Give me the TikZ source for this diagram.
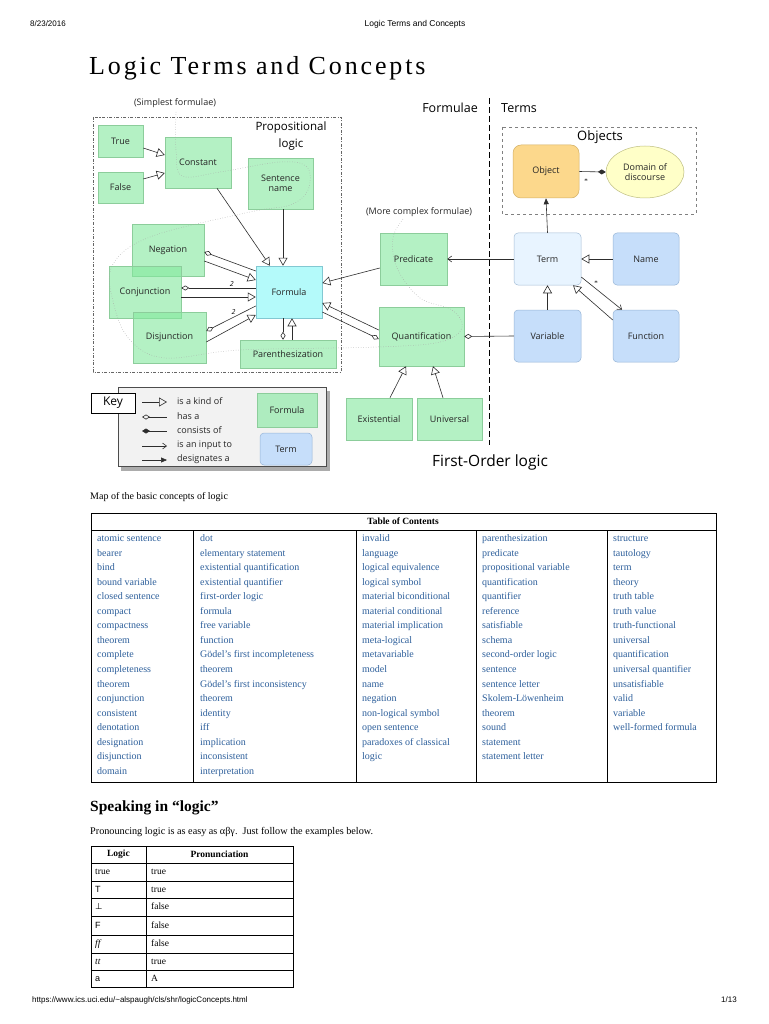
\documentclass[tikz,border=0pt]{standalone}
\usepackage{fontspec}
\setmainfont{Liberation Serif}
\setsansfont{Liberation Sans}
\newfontfamily\hand{Open Sans}
\newfontfamily\dejavu{DejaVu Sans}
\newfontfamily\titlefont[LetterSpace=11]{Liberation Serif}
\usetikzlibrary{arrows.meta,shapes.geometric}
\definecolor{gfill}{RGB}{130,233,157}
\definecolor{gdraw}{RGB}{140,205,155}
\definecolor{cfill}{RGB}{180,250,250}
\definecolor{cdraw}{RGB}{130,200,210}
\definecolor{tfill}{RGB}{232,244,255}
\definecolor{tdraw}{RGB}{165,190,215}
\definecolor{bfill}{RGB}{198,222,250}
\definecolor{bdraw}{RGB}{150,180,215}
\definecolor{ofill}{RGB}{252,216,140}
\definecolor{odraw}{RGB}{210,175,100}
\definecolor{dfill}{RGB}{255,255,200}
\definecolor{ddraw}{RGB}{190,190,130}
\definecolor{linkc}{RGB}{45,95,155}
\definecolor{lin}{RGB}{45,45,45}
\begin{document}
\begin{tikzpicture}[x=1pt,y=-1pt,
  lbl/.style={font=\hand\fontsize{9}{10.5}\selectfont, align=center, text=black!85},
  gbox/.style={lbl, draw=gdraw, fill=gfill, fill opacity=0.6, text opacity=1, line width=0.5pt, inner sep=0pt},
  fbox/.style={lbl, draw=cdraw, fill=cfill, line width=0.5pt, inner sep=0pt},
  tbox/.style={lbl, draw=tdraw, fill=tfill, line width=0.5pt, inner sep=0pt, rounded corners=4pt},
  bbox/.style={lbl, draw=bdraw, fill=bfill, line width=0.5pt, inner sep=0pt, rounded corners=4pt},
  isa/.style={draw=lin, line width=0.6pt, -{Triangle[open,length=8pt,width=9pt]}},
  hasa/.style={draw=lin, line width=0.6pt, {Diamond[open,length=8pt,width=5pt]}-},
  cons/.style={draw=lin, line width=0.6pt, {Diamond[length=8pt,width=5pt]}-},
  input/.style={draw=lin, line width=0.6pt, -{Straight Barb[length=4pt,width=6pt]}},
  desig/.style={draw=lin, line width=0.6pt, -{Triangle[length=6pt,width=5pt]}},
  toc/.style={anchor=west, text=linkc, font=\fontsize{10}{12}\selectfont, inner sep=0pt, text height=7pt, text depth=2pt},
  cell/.style={anchor=west, font=\fontsize{9.5}{11}\selectfont, inner sep=0pt, text height=7pt, text depth=2pt}
]
\useasboundingbox (0,0) rectangle (768,1024);
\fill[white] (0,0) rectangle (768,1024);

% header / footer
\node[anchor=west, font=\sffamily\fontsize{8}{9}\selectfont, inner sep=0pt] (date) at (30,24) {8/23/2016};
\node[font=\sffamily\fontsize{8.5}{9}\selectfont, inner sep=0pt] (htitle) at (415,24) {Logic Terms and Concepts};
\node[anchor=west, font=\sffamily\fontsize{8}{9}\selectfont, inner sep=0pt] (url) at (32,1000) {https://www.ics.uci.edu/\textasciitilde alspaugh/cls/shr/logicConcepts.html};
\node[anchor=east, font=\sffamily\fontsize{8}{9}\selectfont, inner sep=0pt] (pg) at (737,1000) {1/13};

% title
\node[anchor=base west, font=\titlefont\fontsize{26}{30}\selectfont, inner sep=0pt] (title) at (89,75) {Logic Terms and Concepts};

% region frames
\draw[gray!80!black, line width=0.6pt, dash pattern=on 3pt off 1.5pt on 1pt off 1.5pt] (93,117) rectangle (341,372);
\draw[gray, line width=0.5pt, dashed] (502,127) rectangle (696,214);
\coordinate (vtop) at (489,98);
\coordinate (vbot) at (489,445);
\draw[black, line width=0.8pt, dash pattern=on 6pt off 3pt] (vtop) -- (vbot);

% region labels
\node[lbl] (simplest) at (175,103) {(Simplest formulae)};
\node[font=\hand\fontsize{11.5}{17}\selectfont, align=center] (prop) at (291,136) {Propositional\\logic};
\node[anchor=east, font=\hand\fontsize{12.5}{14}\selectfont, inner sep=0pt] (formulae) at (478,108) {Formulae};
\node[anchor=west, font=\hand\fontsize{12.5}{14}\selectfont, inner sep=0pt] (terms) at (501,108) {Terms};
\node[font=\hand\fontsize{13}{15}\selectfont, inner sep=0pt] (objects) at (600,137) {Objects};
\node[lbl] (complex) at (419,212) {(More complex formulae)};
\node[font=\hand\fontsize{15.5}{18}\selectfont, inner sep=0pt] (fol) at (490,462) {First-Order logic};

% nodes
\node[gbox, minimum width=45pt, minimum height=32pt] (true) at (120.5,141) {True};
\node[gbox, minimum width=45pt, minimum height=31pt] (false) at (120.5,187.5) {False};
\node[gbox, minimum width=66pt, minimum height=51pt] (constant) at (198,162.5) {Constant};
\node[gbox, minimum width=65pt, minimum height=51pt] (sentence) at (280.5,183.5) {Sentence\\name};
\node[gbox, minimum width=72pt, minimum height=52pt] (negation) at (168,250) {Negation};
\node[gbox, minimum width=72pt, minimum height=52pt] (conjunction) at (145,292) {Conjunction};
\node[gbox, minimum width=73pt, minimum height=51pt] (disjunction) at (169.5,337.5) {Disjunction};
\node[fbox, minimum width=66pt, minimum height=52pt] (formula) at (289,292) {Formula};
\node[gbox, minimum width=96pt, minimum height=28pt] (paren) at (288,354) {Parenthesization};
\node[gbox, minimum width=67pt, minimum height=52pt] (predicate) at (413.5,259) {Predicate};
\node[gbox, minimum width=85pt, minimum height=59pt] (quant) at (421.5,336.5) {Quantification};
\node[gbox, minimum width=66pt, minimum height=42pt] (exist) at (379,419) {Existential};
\node[gbox, minimum width=65pt, minimum height=42pt] (univ) at (449.5,419) {Universal};
\node[tbox, minimum width=67pt, minimum height=52pt] (term) at (547.5,259) {Term};
\node[bbox, minimum width=66pt, minimum height=52pt] (name) at (646,259) {Name};
\node[bbox, minimum width=67pt, minimum height=52pt] (variable) at (547.5,336) {Variable};
\node[bbox, minimum width=66pt, minimum height=52pt] (function) at (646,336) {Function};
\node[lbl, draw=odraw, fill=ofill, line width=0.5pt, inner sep=0pt, rounded corners=8pt, minimum width=66pt, minimum height=53pt] (object) at (546,171.5) {Object};
\node[lbl, ellipse, draw=ddraw, fill=dfill, line width=0.5pt, inner sep=0pt, minimum width=78pt, minimum height=52pt] (domain) at (645,172) {Domain of\\discourse};

% connectors: propositional
\draw[isa] ([yshift=-7pt]true.east) -- ([yshift=7.5pt]constant.west);
\draw[isa] ([yshift=8.5pt]false.east) -- ([yshift=-10.5pt]constant.west);
\draw[isa] ([xshift=19pt]constant.south) -- ([xshift=-19pt]formula.north);
\draw[isa] ([xshift=2.5pt]sentence.south) -- ([xshift=-6pt]formula.north);
\draw[hasa] ([yshift=-2pt]negation.east) -- ([yshift=21pt]formula.west);
\draw[isa] ([yshift=-11pt]negation.east) -- ([yshift=12pt]formula.west);
\draw[hasa] ([yshift=4pt]conjunction.east) -- node[pos=0.68, above, font=\hand\itshape\fontsize{7}{8}\selectfont, inner sep=1pt] (two1) {2} ([yshift=4pt]formula.west);
\draw[isa] ([yshift=-5pt]conjunction.east) -- ([yshift=-5pt]formula.west);
\draw[hasa] ([yshift=6.5pt]disjunction.east) -- node[pos=0.55, above, font=\hand\itshape\fontsize{7}{8}\selectfont, inner sep=2pt] (two2) {2} ([yshift=-14pt]formula.west);
\draw[isa] ([yshift=-4.5pt]disjunction.east) -- ([yshift=-23pt]formula.west);
\draw[hasa] ([xshift=-5pt]paren.north) -- ([xshift=-6pt]formula.south);
\draw[isa] ([xshift=4pt]paren.north) -- ([xshift=3pt]formula.south);
% first-order
\draw[isa] ([yshift=-9pt]predicate.west) -- ([yshift=9pt]formula.east);
\draw[isa] ([yshift=6.5pt]quant.west) -- ([yshift=-11pt]formula.east);
\draw[hasa] ([yshift=-2.5pt]quant.west) -- ([yshift=-20pt]formula.east);
\draw[isa] ([xshift=11pt]exist.north) -- ([xshift=-15.5pt]quant.south);
\draw[isa] ([xshift=-6.5pt]univ.north) -- ([xshift=11.5pt]quant.south);
\draw[input] (term.west) -- (predicate.east);
\draw[hasa] (quant.east) -- (variable.west);
% terms
\draw[desig] (term.north) -- (object.south);
\draw[cons] (domain.west) -- (object.east);
\node[font=\fontsize{7}{8}\selectfont, inner sep=0pt] (star1) at (586,181) {*};
\draw[isa] (name.west) -- (term.east);
\draw[isa] (variable.north) -- (term.south);
\draw[isa] ([yshift=16pt]function.west) -- ([xshift=25.5pt]term.south);
\draw[input] ([yshift=-18pt]term.east) -- ([xshift=-24pt]function.north);
\node[font=\fontsize{7}{8}\selectfont, inner sep=0pt] (star2) at (596,283) {*};

% dotted regions
\draw[gray!70, line width=0.5pt, dotted] plot[smooth, tension=0.6] coordinates {
 (176,112) (176,150) (182,176) (220,172) (280,162) (307,167) (308,190) (290,205)
 (250,212) (150,237) (112,266) (114,305) (130,340) (165,358) (240,350) (378,347)
 (440,342) (462,328) (452,310) (420,298) (397,268) (393,238) (403,219)};

% key
\fill[gray!65] (121,391) rectangle (330,471);
\draw[black!70, fill=black!5, line width=0.5pt] (118,387) rectangle (326,466);
\node[draw=black, fill=white, line width=0.6pt, minimum width=44pt, minimum height=20pt, inner sep=0pt, font=\hand\fontsize{12}{14}\selectfont] (key) at (113,403) {Key};
\coordinate (k1a) at (142,402); \coordinate (k1b) at (167,402);
\coordinate (k2a) at (142,417); \coordinate (k2b) at (167,417);
\coordinate (k3a) at (142,431); \coordinate (k3b) at (167,431);
\coordinate (k4a) at (142,446); \coordinate (k4b) at (167,446);
\coordinate (k5a) at (142,460); \coordinate (k5b) at (167,460);
\draw[isa] (k1a) -- (k1b);
\draw[hasa] (k2a) -- (k2b);
\draw[cons] (k3a) -- (k3b);
\draw[input] (k4a) -- (k4b);
\draw[desig] (k5a) -- (k5b);
\node[anchor=west, lbl, inner sep=0pt] (kt1) at (177,401) {is a kind of};
\node[anchor=west, lbl, inner sep=0pt] (kt2) at (177,416) {has a};
\node[anchor=west, lbl, inner sep=0pt] (kt3) at (177,430) {consists of};
\node[anchor=west, lbl, inner sep=0pt] (kt4) at (177,445) {is an input to};
\node[anchor=west, lbl, inner sep=0pt] (kt5) at (177,459) {designates a};
\node[gbox, minimum width=60pt, minimum height=34pt] (kformula) at (287,410) {Formula};
\node[bbox, minimum width=52pt, minimum height=32pt] (kterm) at (286,449) {Term};

% caption
\node[anchor=west, font=\fontsize{10}{12}\selectfont, inner sep=0pt] (caption) at (90,497) {Map of the basic concepts of logic};

% table of contents
\draw[black, line width=0.8pt] (91,513) rectangle (716,782);
\draw[black, line width=0.8pt] (91,530) -- (716,530);
\foreach \xx in {193,356,476,607} \draw[black, line width=0.8pt] (\xx,530) -- (\xx,782);
\node[font=\bfseries\fontsize{9.5}{11}\selectfont, inner sep=0pt] (tochead) at (403,521.5) {Table of Contents};
\foreach \t [count=\i from 0] in {atomic sentence,bearer,bind,bound variable,closed sentence,compact,compactness,theorem,complete,completeness,theorem,conjunction,consistent,denotation,designation,disjunction,domain}
  \node[toc] (ca\i) at (97,539+14.55*\i) {\t};
\foreach \t [count=\i from 0] in {dot,elementary statement,existential quantification,existential quantifier,first-order logic,formula,free variable,function,Gödel's first incompleteness,theorem,Gödel's first inconsistency,theorem,identity,iff,implication,inconsistent,interpretation}
  \node[toc] (cb\i) at (200,539+14.55*\i) {\t};
\foreach \t [count=\i from 0] in {invalid,language,logical equivalence,logical symbol,material biconditional,material conditional,material implication,meta-logical,metavariable,model,name,negation,non-logical symbol,open sentence,paradoxes of classical,logic}
  \node[toc] (cc\i) at (362,539+14.55*\i) {\t};
\foreach \t [count=\i from 0] in {parenthesization,predicate,propositional variable,quantification,quantifier,reference,satisfiable,schema,second-order logic,sentence,sentence letter,Skolem-Löwenheim,theorem,sound,statement,statement letter}
  \node[toc] (cd\i) at (482,539+14.55*\i) {\t};
\foreach \t [count=\i from 0] in {structure,tautology,term,theory,truth table,truth value,truth-functional,universal,quantification,universal quantifier,unsatisfiable,valid,variable,well-formed formula}
  \node[toc] (ce\i) at (613,539+14.55*\i) {\t};

% speaking in logic
\node[anchor=west, font=\bfseries\fontsize{15.5}{18}\selectfont, inner sep=0pt] (speak) at (90,808) {Speaking in “logic”};
\node[anchor=west, font=\fontsize{10.2}{12}\selectfont, inner sep=0pt] (pron) at (90,832) {Pronouncing logic is as easy as αβγ.\ \ Just follow the examples below.};

% pronunciation table
\draw[black, line width=0.8pt] (91,846) rectangle (293,987);
\draw[black, line width=0.8pt] (146,846) -- (146,987);
\foreach \yy in {863,881,898,916,935,953,970} \draw[black, line width=0.8pt] (91,\yy) -- (293,\yy);
\node[font=\bfseries\fontsize{9.5}{11}\selectfont, inner sep=0pt] (h1) at (118.5,854.5) {Logic};
\node[font=\bfseries\fontsize{9.5}{11}\selectfont, inner sep=0pt] (h2) at (219.5,854.5) {Pronunciation};
\node[cell] (l1) at (95,872) {true};
\node[cell, font=\sffamily\fontsize{9}{11}\selectfont] (l2) at (95,889.5) {T};
\node[cell, font=\dejavu\fontsize{8.5}{11}\selectfont] (l3) at (95,907) {⊥};
\node[cell, font=\sffamily\fontsize{9}{11}\selectfont] (l4) at (95,925.5) {F};
\node[cell, font=\itshape\fontsize{9.5}{11}\selectfont] (l5) at (95,944) {ff};
\node[cell, font=\itshape\fontsize{9.5}{11}\selectfont] (l6) at (95,961.5) {tt};
\node[cell, font=\sffamily\fontsize{9}{11}\selectfont] (l7) at (95,978.5) {a};
\node[cell] (p1) at (151,872) {true};
\node[cell] (p2) at (151,889.5) {true};
\node[cell] (p3) at (151,907) {false};
\node[cell] (p4) at (151,925.5) {false};
\node[cell] (p5) at (151,944) {false};
\node[cell] (p6) at (151,961.5) {true};
\node[cell] (p7) at (151,978.5) {A};
\end{tikzpicture}
\end{document}
